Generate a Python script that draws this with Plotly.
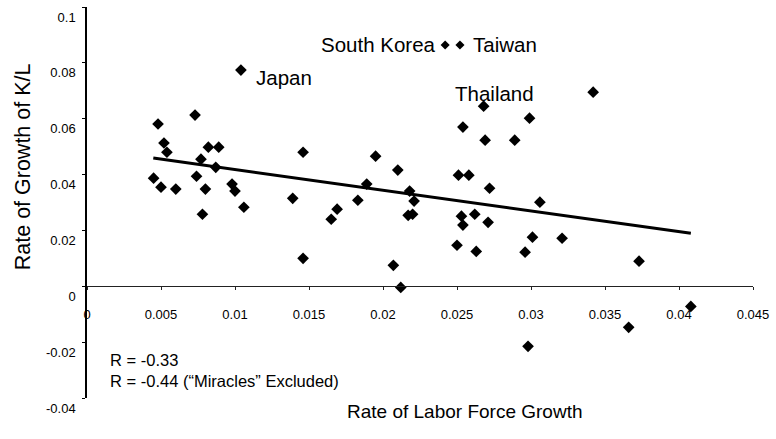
import plotly.graph_objects as go

# Labor force growth (x) vs growth of capital per worker (y), one point per economy
labor_growth = [
    0.0073, 0.0048, 0.0052, 0.0054, 0.0082, 0.0089, 0.0077, 0.0087,
    0.0045, 0.0050, 0.0060, 0.0074, 0.0080, 0.0098, 0.0100, 0.0106, 0.0078,
    0.0146, 0.0195, 0.0210, 0.0189, 0.0218, 0.0221, 0.0139, 0.0183,
    0.0169, 0.0165, 0.0217, 0.0220, 0.0146, 0.0207, 0.0212,
    0.0254, 0.0269, 0.0289, 0.0299, 0.0251, 0.0258,
    0.0272, 0.0306, 0.0253, 0.0254, 0.0262, 0.0271, 0.0250, 0.0263,
    0.0301, 0.0296, 0.0321, 0.0342, 0.0373, 0.0408, 0.0366, 0.0298,
]
kl_growth = [
    0.0613, 0.0581, 0.0513, 0.0480, 0.0498, 0.0498, 0.0455, 0.0426,
    0.0387, 0.0355, 0.0348, 0.0394, 0.0348, 0.0366, 0.0341, 0.0283, 0.0258,
    0.0480, 0.0466, 0.0416, 0.0366, 0.0341, 0.0305, 0.0315, 0.0308,
    0.0276, 0.0240, 0.0254, 0.0258, 0.0100, 0.0075, -0.0004,
    0.0570, 0.0523, 0.0523, 0.0602, 0.0398, 0.0398,
    0.0351, 0.0301, 0.0251, 0.0219, 0.0258, 0.0229, 0.0147, 0.0125,
    0.0176, 0.0122, 0.0172, 0.0695, 0.0090, -0.0072, -0.0147, -0.0215,
]

# Labelled "miracle" economies
miracle_names = ["Japan", "Thailand", "South Korea", "Taiwan"]
miracle_x = [0.0104, 0.0268, 0.0242, 0.0252]
miracle_y = [0.0774, 0.0645, 0.0864, 0.0864]

# Fitted trend line endpoints
trend_x = [0.00448, 0.0408]
trend_y = [0.0459, 0.0190]

x_ticks = [0, 0.005, 0.01, 0.015, 0.02, 0.025, 0.03, 0.035, 0.04, 0.045]
x_tick_text = ["0", "0.005", "0.01", "0.015", "0.02", "0.025", "0.03", "0.035", "0.04", "0.045"]
y_ticks = [0.1, 0.08, 0.06, 0.04, 0.02, 0, -0.02, -0.04]
y_tick_text = ["0.1", "0.08", "0.06", "0.04", "0.02", "0", "-0.02", "-0.04"]

FONT = "Liberation Sans, Arial, Helvetica, sans-serif"

fig = go.Figure()

fig.add_trace(go.Scatter(
    x=trend_x, y=trend_y, mode="lines",
    line=dict(color="black", width=3), hoverinfo="skip",
))
fig.add_trace(go.Scatter(
    x=labor_growth + miracle_x[:2], y=kl_growth + miracle_y[:2], mode="markers",
    marker=dict(symbol="diamond", size=9, color="black"),
))
fig.add_trace(go.Scatter(
    x=miracle_x[2:], y=miracle_y[2:], mode="markers",
    marker=dict(symbol="diamond", size=7, color="black"),
))

# Country labels
label_pos = {
    "Japan": dict(x=0.01131, y=0.0746, xanchor="left"),
    "Thailand": dict(x=0.0275, y=0.0692, xanchor="center"),
    "South Korea": dict(x=0.02369, y=0.0864, xanchor="right"),
    "Taiwan": dict(x=0.02597, y=0.0864, xanchor="left"),
}
for name in miracle_names:
    p = label_pos[name]
    fig.add_annotation(
        x=p["x"], y=p["y"], text=name, showarrow=False,
        xanchor=p["xanchor"], yanchor="middle",
        font=dict(family=FONT, size=20.5, color="black"),
    )

fig.add_annotation(
    xref="paper", yref="paper", x=0.03125, y=0.0716,
    text="R = -0.33<br>R = -0.44 (\u201cMiracles\u201d Excluded)",
    showarrow=False, xanchor="left", yanchor="middle", align="left",
    font=dict(family=FONT, size=16.5, color="black"),
)
fig.add_annotation(
    xref="paper", yref="paper", x=0.567, y=-0.0358,
    text="Rate of Labor Force Growth", showarrow=False,
    xanchor="center", yanchor="middle",
    font=dict(family=FONT, size=19, color="black"),
)
fig.add_annotation(
    xref="paper", yref="paper", x=-0.0965, y=0.592,
    text="Rate of Growth of K/L", showarrow=False, textangle=-90,
    xanchor="center", yanchor="middle",
    font=dict(family=FONT, size=21.5, color="black"),
)

fig.update_layout(
    width=776, height=439,
    margin=dict(l=87, r=17, t=7, b=41),
    paper_bgcolor="white", plot_bgcolor="white",
    showlegend=False,
    font=dict(family=FONT, size=13, color="black"),
    xaxis=dict(
        range=[0, 0.045], tickvals=x_ticks, ticktext=x_tick_text,
        anchor="free", position=0.04 / 0.14,
        showline=True, linecolor="#222", linewidth=1,
        ticks="outside", ticklen=3, tickcolor="#222",
        ticklabelstandoff=13,
        showgrid=False, zeroline=False,
    ),
    yaxis=dict(
        range=[-0.04, 0.1], tickvals=y_ticks, ticktext=y_tick_text,
        showline=True, linecolor="black", linewidth=1.5,
        ticks="outside", ticklen=3, tickcolor="black",
        ticklabelshift=10, ticklabelstandoff=4,
        showgrid=False, zeroline=False,
    ),
)

fig.write_html("out.html")
